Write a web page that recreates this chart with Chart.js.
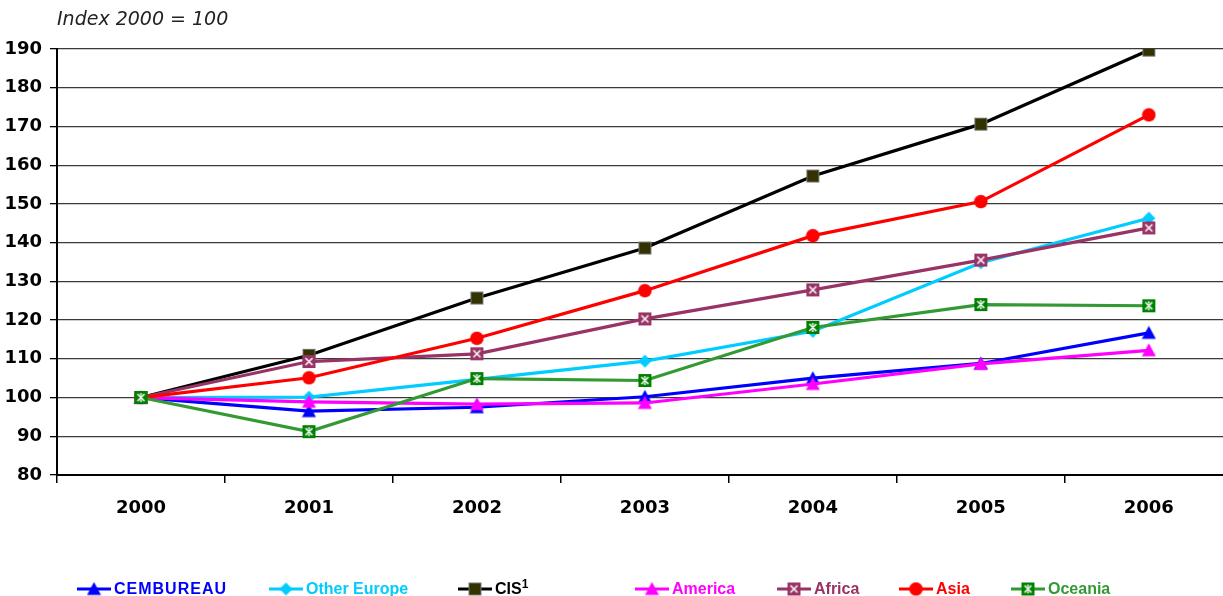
<!DOCTYPE html>
<html>
<head>
<meta charset="utf-8">
<script src="https://cdn.jsdelivr.net/npm/chart.js@4/dist/chart.umd.min.js"></script>
<style>
  html, body { margin: 0; padding: 0; background: #fff; overflow: hidden; width: 1223px; height: 596px; }
  #wrap { position: absolute; left: 0; top: 0; width: 1243px; height: 596px; }
  #titel { position: absolute; left: 57px; top: 7px; font: italic 19px "DejaVu Sans", sans-serif; color: #222; white-space: nowrap; }
  .leg { position: absolute; top: 581px; height: 16px; display: flex; align-items: center; white-space: nowrap;
         font: bold 16px "Liberation Sans", Arial, sans-serif; }
  .leg canvas { margin-right: 3px; }
</style>
</head>
<body>
<div id="wrap">
  <canvas id="grafico" width="1243" height="596"></canvas>
</div>
<div id="titel">Index 2000 = 100</div>
<div id="leyenda"></div>

<script>
// datos
const anios = ["2000", "2001", "2002", "2003", "2004", "2005", "2006"];
const cembureau = [100, 96.5, 97.5, 100.2, 105.0, 108.8, 116.7];
const otherEurope = [100, 100.1, 104.7, 109.4, 117.1, 134.8, 146.3];
const cis = [100, 110.9, 125.7, 138.6, 157.2, 170.6, 189.7];
const america = [100, 98.9, 98.3, 98.6, 103.5, 108.7, 112.2];
const africa = [100, 109.3, 111.3, 120.3, 127.8, 135.5, 143.8];
const asia = [100, 105.1, 115.3, 127.6, 141.8, 150.6, 173.0];
const oceania = [100, 91.2, 104.9, 104.4, 118.1, 124.0, 123.7];
const series = ["CEMBUREAU", "Other Europe", "CIS\u00B9", "America", "Africa", "Asia", "Oceania"];

// dibuja un marcador pequeño en un canvas
const marcador = (tipo, relleno, borde) => {
  let c = document.createElement("canvas");
  c.width = 15;
  c.height = 15;
  let g = c.getContext("2d");
  g.fillStyle = relleno;
  if (tipo == "tri") {
    g.beginPath();
    g.moveTo(7.5, 0.5);
    g.lineTo(14.5, 13.5);
    g.lineTo(0.5, 13.5);
    g.closePath();
    g.fill();
  } else if (tipo == "rombo") {
    g.beginPath();
    g.moveTo(7.5, 1);
    g.lineTo(14, 7.5);
    g.lineTo(7.5, 14);
    g.lineTo(1, 7.5);
    g.closePath();
    g.fill();
  } else if (tipo == "circ") {
    g.beginPath();
    g.arc(7.5, 7.5, 6.8, 0, Math.PI * 2);
    g.fill();
  } else {
    g.fillRect(1, 1, 13, 13);
    if (borde) {
      g.strokeStyle = borde;
      g.lineWidth = 1;
      g.strokeRect(1.5, 1.5, 12, 12);
    }
    if (tipo == "cruz" || tipo == "estrella") {
      g.strokeStyle = "#fff";
      g.lineWidth = 1.5;
      g.beginPath();
      g.moveTo(4, 4);
      g.lineTo(11, 11);
      g.moveTo(11, 4);
      g.lineTo(4, 11);
      if (tipo == "estrella") {
        g.moveTo(7.5, 3);
        g.lineTo(7.5, 5.5);
        g.moveTo(7.5, 9.5);
        g.lineTo(7.5, 12);
      }
      g.stroke();
    }
  }
  return c;
};

let estilos = [
  { color: "#0000FF", punto: marcador("tri", "#0000FF") },
  { color: "#00CCFF", punto: marcador("rombo", "#00CCFF") },
  { color: "#000000", punto: marcador("cuad", "#333300", "#777") },
  { color: "#FF00FF", punto: marcador("tri", "#FF00FF") },
  { color: "#993366", punto: marcador("cruz", "#993366") },
  { color: "#FF0000", punto: marcador("circ", "#FF0000") },
  { color: "#339933", punto: marcador("estrella", "#008000") },
];

let valores = [cembureau, otherEurope, cis, america, africa, asia, oceania];

let datasets = valores.map((v, i) => ({
  label: series[i],
  data: v,
  borderColor: estilos[i].color,
  backgroundColor: estilos[i].color,
  borderWidth: 3.2,
  pointStyle: estilos[i].punto,
  pointRadius: 7,
  pointHoverRadius: 7,
  tension: 0,
  fill: false,
  order: valores.length - i,
}));

const fuenteEje = { family: "DejaVu Sans", weight: "bold" };

new Chart(document.getElementById("grafico"), {
  type: "line",
  data: { labels: anios, datasets: datasets },
  options: {
    responsive: false,
    animation: false,
    events: [],
    layout: { padding: { top: 49, right: 3, bottom: 0, left: 0 } },
    plugins: { legend: { display: false }, tooltip: { enabled: false } },
    scales: {
      x: {
        offset: true,
        afterFit: (s) => { s.height = 121; },
        border: { display: true, color: "#000", width: 2 },
        grid: { offset: true, drawOnChartArea: false, drawTicks: true, tickLength: 8, color: "#000", lineWidth: 1.5 },
        ticks: { color: "#000", padding: 15, font: { ...fuenteEje, size: 18 } },
      },
      y: {
        min: 80,
        max: 190,
        afterFit: (s) => { s.width = 57; },
        border: { display: true, color: "#000", width: 2 },
        grid: { color: "#3a3a3a", lineWidth: 1.3, tickLength: 7, tickColor: "#000" },
        ticks: { stepSize: 10, color: "#000", padding: 8, font: { ...fuenteEje, size: 18 } },
      },
    },
  },
});

// leyenda abajo, recortada como en el original
const posLeyenda = [77, 269, 458, 635, 777, 899, 1011];
let caja = document.getElementById("leyenda");
series.forEach((nombre, i) => {
  let item = document.createElement("div");
  item.className = "leg";
  item.style.left = posLeyenda[i] + "px";
  let c = document.createElement("canvas");
  c.width = 34;
  c.height = 16;
  let g = c.getContext("2d");
  g.strokeStyle = estilos[i].color;
  g.lineWidth = 3.2;
  g.beginPath();
  g.moveTo(0, 8);
  g.lineTo(34, 8);
  g.stroke();
  g.drawImage(estilos[i].punto, 9.5, 0.5);
  item.appendChild(c);
  let s = document.createElement("span");
  s.style.color = estilos[i].color;
  if (i == 0) s.style.letterSpacing = "1px";
  if (i == 2) {
    s.innerHTML = 'CIS<sup style="font-size:12px;vertical-align:6px;line-height:0">1</sup>';
  } else {
    s.textContent = nombre;
  }
  item.appendChild(s);
  caja.appendChild(item);
});
</script>
</body>
</html>
